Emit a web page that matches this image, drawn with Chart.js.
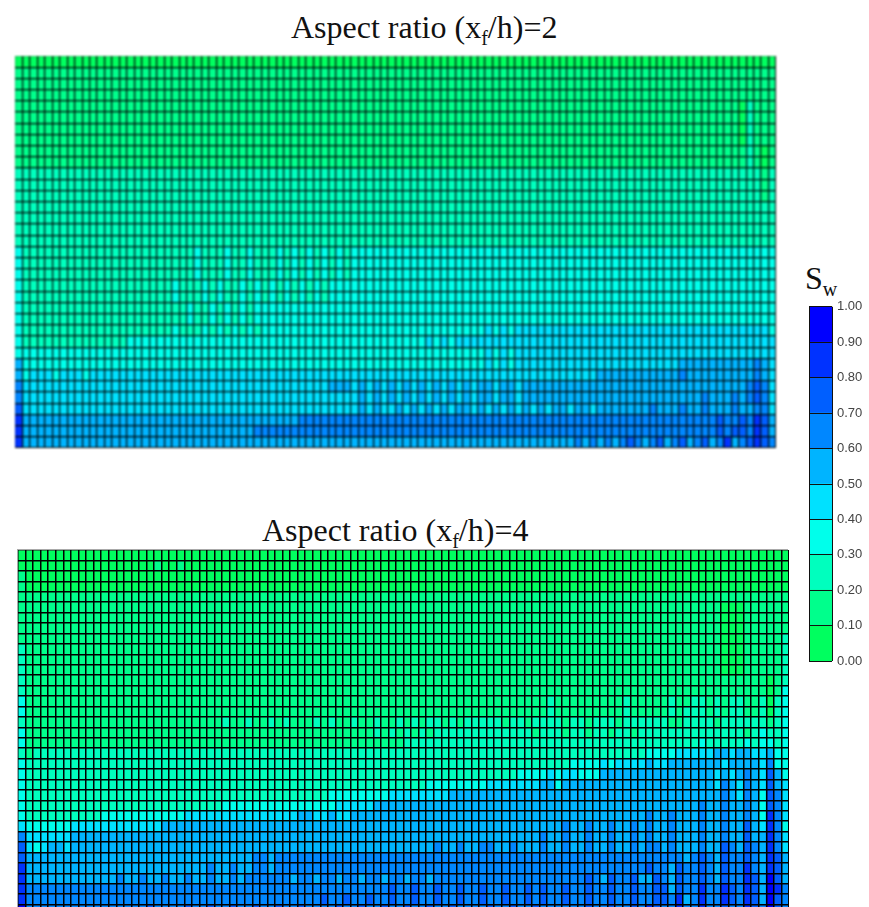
<!DOCTYPE html>
<html>
<head>
<meta charset="utf-8">
<title>Aspect ratio</title>
<script src="https://cdn.jsdelivr.net/npm/chart.js@4"></script>
<style>
html, body { margin: 0; padding: 0; background: #fff; width: 869px; height: 907px; overflow: hidden; }
canvas, .label { position: absolute; }
.label { font-family: "Liberation Serif", serif; font-size: 32px; color: #111; white-space: nowrap; line-height: 36px; }
.label sub { font-size: 20px; line-height: 0; }
#upper { left: 15px; top: 56px; filter: blur(1px); }
#lower { left: 18px; top: 550px; box-shadow: -1px -1px 0 #aaa; }
#scale { left: 809px; top: 294px; }
</style>
</head>
<body>
<div class="label" style="left:291px;top:9px">Aspect ratio (x<sub>f</sub>/h)=2</div>
<div class="label" style="left:262px;top:512px">Aspect ratio (x<sub>f</sub>/h)=4</div>
<div class="label" style="left:805px;top:260px">S<sub>w</sub></div>
<canvas id="upper" width="761" height="392"></canvas>
<canvas id="lower" width="771" height="365"></canvas>
<canvas id="scale" width="60" height="380"></canvas>
<script>
// Sw band colours, lowest band first
const bandColors = ["#00ff5f", "#00ff8c", "#00ffbe", "#00ffeb", "#00e1ff", "#00b4ff", "#0087ff", "#005fff", "#0032ff", "#0000ff"];
const bandSizes = [0.1, 0.1, 0.1, 0.1, 0.1, 0.1, 0.1, 0.1, 0.1, 0.1];

// one string per grid row (top first), one digit per cell = Sw band, spaces every ten columns
const upperRows = [
"0000000000 0000000000 0000000000 0000000000 0000000000 0000000000 0000000000 0000000000 0000000000 0000000000 00",
"1111111111 1111111111 1111111111 1111111111 1111111111 1111111111 1111111111 1111111111 1111111111 1111111111 11",
"1111111111 1111111111 1111111111 1111111111 1111111111 1111111111 1111111111 1111111111 1111111111 1111111111 11",
"1111111111 1111111111 1111111111 1111111111 1111111111 1111111111 1111111111 1111111111 1111111111 1111111111 11",
"1111111111 1111111111 1111111111 1111111111 1111111111 1111111111 1111111111 1111111111 1111111111 1111111021 11",
"1111111111 1111111111 1111111111 1111111111 1111111111 1111111111 1111111111 1111111111 1111111111 1111111021 11",
"1111111111 1111111111 1111111111 1111111111 1111111111 1111111111 1111111111 1111111111 1111111111 1111111021 11",
"1111111111 1111111111 1111111111 1111111111 1111111111 1111111111 1111111111 1111111111 1111111111 1111111021 11",
"1111111111 1111111111 1111111111 1111111111 1111111111 1111111111 1111111111 1111111111 1111111111 1111111121 01",
"1111111111 1111111111 1111111111 1111111111 1111111111 1111111111 1111111111 1111111111 1111111111 1111111121 01",
"2222222222 2222222222 2222222222 2222222222 2222222222 2222222222 2222222222 2222222222 2222222222 2222222222 12",
"2222222222 2222222222 2222222222 2222222222 2222222222 2222222222 2222222222 2222222222 2222222222 2222222222 12",
"2222222222 2222222222 2222222222 2222222222 2222222222 2222222222 2222222222 2222222222 2222222222 2222222222 12",
"2222222222 2222222222 2222222222 2222222222 2222222222 2222222222 2222222222 2222222222 2222222222 2222222222 22",
"2222222222 2222222222 2222222222 2222222222 2222222222 2222222222 2222222222 2222222222 2222222222 2222222222 22",
"2222222222 2222222222 2222222222 2222222222 2222222222 2222222222 2222222222 2222222222 2222222222 2222222222 22",
"2222222222 2222222222 2222222222 2222222222 2222222222 2222222222 2222222222 2222222222 2222222222 2222222222 22",
"3222222222 2222222222 2222322232 2322232323 2323233333 3333333333 3333333333 3333333333 3333333333 3333333333 33",
"3222222222 2222222222 2222322232 2322232323 2323233333 3333333333 3333333333 3333333333 3333333333 3333333333 33",
"3222222222 2222222222 2222322232 2322232323 2323233333 3333333333 3333333333 3333333333 3333333333 3333333333 33",
"3222222222 2222222222 2322232322 3232323232 3233333333 3333333333 3333333333 3333333333 3333333333 3333333333 33",
"3222222222 2222222222 2322232322 3232323232 3233333333 3333333333 3333333333 3333333333 3333333333 3333333333 33",
"3222222222 2222222222 2223223232 3233333333 3333333333 3333333333 3333333333 3333333333 3333333333 3333333333 33",
"3222222222 2222222222 2223223232 3233333333 3333333333 3333333333 3333333333 3333333333 3333333333 3333333333 33",
"3222222222 2222222222 2322232323 2323333333 3333333333 3333333333 3334343444 4444444444 4444444444 4444444444 43",
"3222222222 2222233333 3333333333 3333333333 3333333333 3333343434 4444444444 4444444444 4444444444 4444444444 44",
"3333333333 3333333333 3333333333 3333333333 3333333333 3333333333 3334343444 4444444444 4444444444 4444444444 44",
"5333333333 3333333333 3333333333 3333333333 3333333333 3333333333 3334343444 4444444444 4444444445 5555555556 54",
"5344434443 4444444444 4444444444 4444444444 4444444444 4444444444 4444444444 4444444455 5555555556 5555555556 54",
"6444444444 4444444444 4444444444 4444444444 4455545454 5454545454 5455455455 5555555555 5555555555 5555555567 64",
"6444444444 4444444444 4444444444 4444444444 4444445454 5454545454 5455455455 5555555555 5555555555 5565556567 64",
"7444444444 4444444444 4444444444 4444444444 4444445454 4545454545 5454545454 5455455455 5555565556 5565556556 64",
"8555555555 5555555555 5555555555 5555555566 6666666666 6666666666 6666666666 6666666666 6666666666 6666766768 75",
"8555555555 5555555555 5555555555 5566666666 6666666666 6666666666 6666666666 6666666666 6666666666 6666767768 75",
"8555555555 5555555555 5555555555 5555555555 5555555555 5555555555 5555555555 5555565656 5676567567 5675685678 76"
];

const lowerRows = [
"0000000000 0000000000 0000000000 0000000000 0000000000 0000000000 0000000000 0000000000 0000000000 0000000000 00",
"0000000000 0000000010 0100000000 0000000000 0000000000 0000000000 0000000000 0000000000 0000000000 0000000000 00",
"1000000000 0000000000 0000000000 0000000000 0000000000 0000000000 0000000000 0000000000 0000000000 0000000000 00",
"1000000000 0000000000 0000000000 0000000000 0000000000 0000000000 0000000000 0000000000 0000000000 0000000000 00",
"1111111111 1111111111 1111111111 1111111111 1111111111 1111111111 1111111111 1111111111 1111111111 1111111111 11",
"1111111111 1111111111 1111111111 1111111111 1111111111 1111111111 1111111111 1111111111 1111111111 1110001111 11",
"1111111111 1111111111 1111111111 1111111111 1111111111 1111111111 1111111111 1111111111 1111111111 1110001111 11",
"1111111111 1111111111 1111111111 1111111111 1111111111 1111111111 1111111111 1111111111 1111111111 1110001111 11",
"1111111111 1111111111 1111111111 1111111111 1111111111 1111111111 1111111111 1111111111 1111111111 1110001111 12",
"2111111111 1111111111 1111111111 1111111111 1111111111 1111111111 1111111111 1111111111 1111111111 1110001111 12",
"2111111111 1111111111 1111111111 1111111111 1111111111 1111111111 1111111111 1111111111 1111111111 1110001111 12",
"2111111111 1111111111 1111111111 1111111111 1111111111 1111111111 1111111111 1111111111 1111111111 1110001111 12",
"2111111111 1111111111 1111111111 1111111111 1111111111 1111111111 1111111111 1111111111 1111111111 1111111110 12",
"2111111111 1111111111 1111111111 1111111111 1111111111 1111111111 1111111111 1111111111 1111111111 1111111110 13",
"3111111111 1111111111 1111111111 1111111111 1111111111 1111111111 1111111111 2111111111 2111112112 2121221120 23",
"3111111111 1111111111 1111111111 1111111111 1111111111 1111111111 1111111111 2111111111 2111112122 2121221120 23",
"2111111111 1111111111 1111111211 2112121112 1211211211 2121221212 2222122122 2212212221 2222221122 2212222221 23",
"3111111111 1111111111 1111111111 1111111111 1111111212 1212122222 2222222212 2212212212 2122222222 2222221232 23",
"3111111111 1111111111 1111111111 1111111111 1111111111 1222222222 2222222222 2222222222 2222222222 3222223233 23",
"2122222222 2222222222 2222222222 2222222222 2222222222 2222222222 2222222222 2222222222 2223333444 4455455445 33",
"3222222222 2222222222 2222222222 2222222222 2222222222 2222222222 2222222222 2223333434 4445445555 5554555546 33",
"3222222222 2222222222 2222222222 2222222222 2222222222 2222222222 2222223333 4344333555 5555555555 5545456547 53",
"3222222222 2222222222 2222222222 2222222222 2222222222 2222333333 3344444445 5355555555 5555555555 5546546547 54",
"3222222222 2222222222 2222222222 2222222222 2333333334 4444444555 5555555555 5555555555 5555555555 5556546537 64",
"3222222222 2222222222 2222222333 3333333333 3344444555 5555555555 5555555555 5555555555 5555555555 6556556537 64",
"3222222222 2333333333 3344444444 4444444554 4544555555 5555555555 5555555555 5555555555 5556556555 6556556538 64",
"4333333444 4444444445 5555555555 5555555555 5555555555 5555555555 5555555555 5565565565 5656556555 6556557548 63",
"6444444555 5555555555 5555555555 5555555555 5555555555 5555555555 5555555556 5565565565 5656556555 6556557558 64",
"7434554555 5555555555 5555555555 5555555555 5555555555 5555565565 5665565556 5565565565 5656656555 6557657658 64",
"7555555555 5555555555 5555555555 5665666666 6666666666 6666666666 6666666666 6666666666 6666666656 7657667658 75",
"8555555555 5555555555 5555565565 5665666666 6666666666 6666666666 6666666666 6666666666 6667665766 7657668658 75",
"8555555555 5556556556 5565565565 6666665665 6656656656 6566566666 6666666666 6666676576 6755765766 7657668759 75",
"8666666666 6666666666 6666666666 6666666666 6666666667 6676676676 6766766767 6676676676 6766775766 8668768759 86",
"8666666666 6666666666 6666666666 6666666666 7667667667 6676676676 6766766767 6676676676 6766776856 8668768759 76",
"9666666666 6666666766 6676676676 6766766766 6676676676 6766766766 6676676676 6666676676 6768766866 8667668769 76"
];

// a grid panel: one stacked bar per column, one dataset per row, black lines come from the axes
function drawGrid(id, rows, lineWidth) {
  const cells = rows.map(row => row.replace(/ /g, ""));
  const columns = cells[0].split("").map((c, i) => i);

  const datasets = cells.map(row => ({
    data: columns.map(() => 1),
    backgroundColor: columns.map(i => bandColors[Number(row[i])]),
    borderWidth: 0,
    inflateAmount: 0.5,
    barPercentage: 1,
    categoryPercentage: 1
  }));

  const lines = { color: "#000", lineWidth: lineWidth, z: 1, drawTicks: false };

  new Chart(document.getElementById(id), {
    type: "bar",
    data: { labels: columns, datasets: datasets },
    options: {
      responsive: false,
      animation: false,
      layout: { padding: 0 },
      plugins: { legend: { display: false }, tooltip: { enabled: false } },
      scales: {
        x: {
          stacked: true,
          grid: lines,
          border: { display: false },
          ticks: { display: false, autoSkip: false }
        },
        y: {
          stacked: true,
          reverse: true,
          min: 0,
          max: rows.length,
          grid: lines,
          border: { display: false },
          ticks: { display: false, stepSize: 1 }
        }
      }
    }
  });
}

drawGrid("upper", upperRows, 1.2);
drawGrid("lower", lowerRows, 1.5);

// colour key
new Chart(document.getElementById("scale"), {
  type: "bar",
  data: {
    labels: ["Sw"],
    datasets: bandSizes.map((size, i) => ({
      data: [size],
      backgroundColor: bandColors[i],
      borderWidth: 0,
      inflateAmount: 0.5,
      barPercentage: 1,
      categoryPercentage: 1
    }))
  },
  options: {
    responsive: false,
    animation: false,
    layout: { padding: { top: 9, bottom: 9 } },
    plugins: { legend: { display: false }, tooltip: { enabled: false } },
    scales: {
      x: {
        stacked: true,
        border: { display: false },
        grid: { color: "#111", z: 1, drawTicks: false },
        ticks: { display: false }
      },
      y: {
        stacked: true,
        position: "right",
        min: 0,
        max: 1,
        afterFit: (scale) => { scale.width = 37; },
        border: { display: false },
        grid: { color: "#111", z: 1, drawTicks: false },
        ticks: {
          stepSize: 0.1,
          padding: 5,
          color: "#444",
          font: { family: "Liberation Sans", size: 13 },
          callback: (value) => Number(value).toFixed(2)
        }
      }
    }
  }
});
</script>
</body>
</html>
